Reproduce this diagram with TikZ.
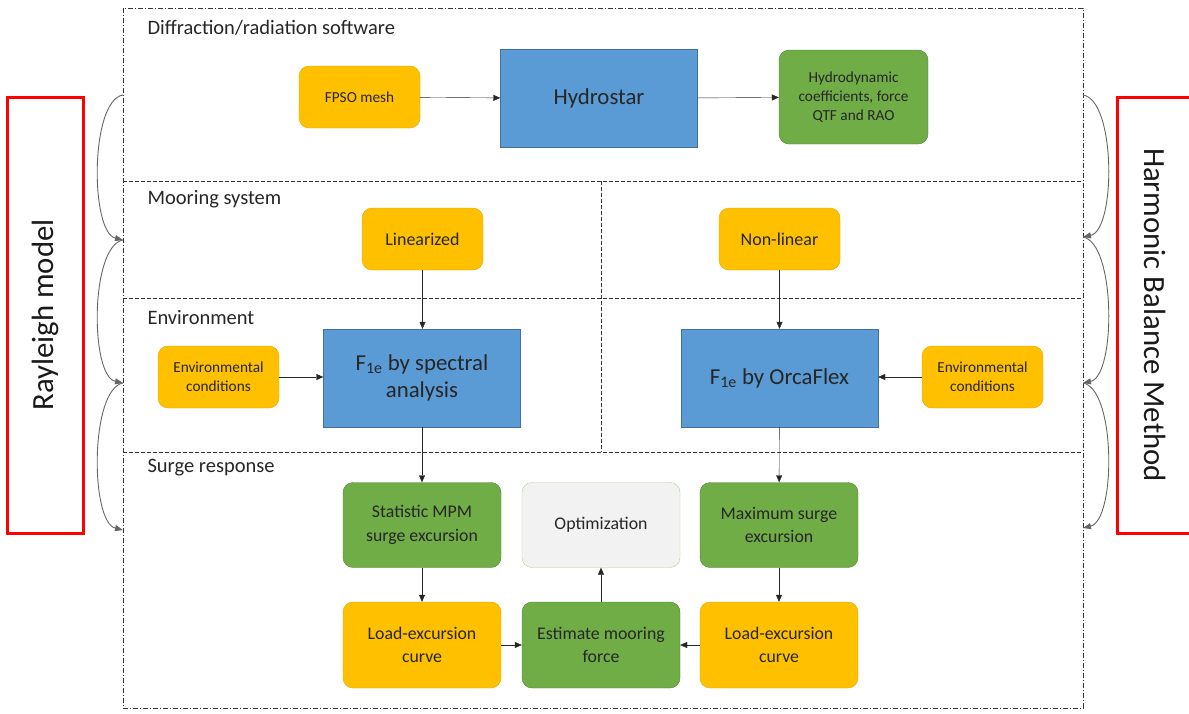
\documentclass[tikz,border=0pt]{standalone}
\usepackage{fontspec}
\setmainfont{Carlito}
\usetikzlibrary{arrows.meta}
\definecolor{jaune}{HTML}{FFC000}
\definecolor{jauneb}{HTML}{E0A800}
\definecolor{vert}{HTML}{70AD47}
\definecolor{vertb}{HTML}{507E32}
\definecolor{bleu}{HTML}{5B9BD5}
\definecolor{bleub}{HTML}{41719C}
\definecolor{gris}{HTML}{F2F2F2}
\definecolor{grisb}{HTML}{A9D18E}
\tikzset{
  bloc/.style={draw,align=center,inner sep=0pt,text=black!85},
  bj/.style={bloc,rounded corners=10pt,fill=jaune,draw=jauneb,minimum width=121pt,minimum height=62pt,font=\fontsize{15.3}{19}\selectfont},
  bv/.style={bloc,rounded corners=10pt,fill=vert,draw=vertb,minimum width=158pt,minimum height=85pt,font=\fontsize{17.8}{23.5}\selectfont},
  bb/.style={bloc,fill=bleu,draw=bleub,minimum width=197pt,minimum height=98pt,font=\fontsize{22.8}{27}\selectfont},
  fl/.style={-{Triangle[length=7pt,width=6pt]},black!85},
  courbe/.style={-{Triangle[length=8pt,width=6pt]},black!60,line width=0.9pt},
  titre/.style={anchor=west,font=\fontsize{20.5}{24}\selectfont,text=black!85}
}
\begin{document}
\begin{tikzpicture}[x=1pt,y=-1pt]
	  \useasboundingbox (0,0) rectangle (1189,713);
	  %cadres
	  \draw[black!80,dash pattern=on 5pt off 2pt on 1pt off 2pt] (123,8) rectangle (1083,708);
	  \draw[black!80,dash pattern=on 4pt off 2pt] (123,181) -- (1083,181)
		(123,298) -- (1083,298) (123,452) -- (1083,452) (601,181) -- (601,452);
	  \node[titre] at (144,28) {Diffraction/radiation software};
	  \node[titre] at (144,199) {Mooring system};
	  \node[titre] at (144,318) {Environment};
	  \node[titre] at (144,468) {Surge response};
	  %blocs
	  \node[bj] (M) at (359.5,97) {FPSO mesh};
	  \node[bb] (H) at (599,98.5) {Hydrostar};
	  \node[bv,minimum width=149pt,minimum height=94pt,font=\fontsize{15.3}{19}\selectfont] (C) at (853.5,97) {Hydrodynamic\\coefficients, force\\QTF and RAO};
	  \node[bj,font=\fontsize{18}{22}\selectfont] (L) at (422.5,239) {Linearized};
	  \node[bj,font=\fontsize{18}{22}\selectfont] (N) at (779.5,239) {Non-linear};
	  \node[bj] (E1) at (218.5,377) {Environmental\\conditions};
	  \node[bb] (S) at (422,378) {F\textsubscript{1e} by spectral\\analysis};
	  \node[bb] (O) at (779.5,378) {F\textsubscript{1e} by OrcaFlex};
	  \node[bj] (E2) at (982.5,377) {Environmental\\conditions};
	  \node[bv] (P) at (422,525) {Statistic MPM\\surge excursion};
	  \node[bv,fill=gris,draw=grisb] (Z) at (601,525) {Optimization};
	  \node[bv] (X) at (779,525) {Maximum surge\\excursion};
	  \node[bj,minimum width=158pt,minimum height=86pt,font=\fontsize{17.8}{23.5}\selectfont] (K1) at (422,645) {Load-excursion\\curve};
	  \node[bv,minimum height=86pt] (F) at (601,645) {Estimate mooring\\force};
	  \node[bj,minimum width=158pt,minimum height=86pt,font=\fontsize{17.8}{23.5}\selectfont] (K2) at (779,645) {Load-excursion\\curve};
	  %fleches
	  \draw[fl] (M) -- (H);
	  \draw[fl] (H) -- (C);
	  \draw[fl] (L) -- (L|-S.north);
	  \draw[fl] (N) -- (N|-O.north);
	  \draw[fl] (E1) -- (E1-|S.west);
	  \draw[fl] (E2) -- (E2-|O.east);
	  \draw[fl] (S) -- (P);
	  \draw[fl] (O) -- (X);
	  \draw[fl] (P) -- (K1);
	  \draw[fl] (X) -- (K2);
	  \draw[fl] (K1) -- (F);
	  \draw[fl] (K2) -- (F);
	  \draw[fl] (F) -- (Z);
	  %courbes laterales
	  \coordinate (g0) at (123,95);  \coordinate (g1) at (123,240);
	  \coordinate (g2) at (123,383); \coordinate (g3) at (123,530);
	  \coordinate (d0) at (1083,95);  \coordinate (d1) at (1083,237);
	  \coordinate (d2) at (1083,383); \coordinate (d3) at (1083,528);
	  \draw[courbe] (g0) .. controls (90,100) and (90,232) .. (g1);
	  \draw[courbe] (g1) .. controls (90,246) and (90,376) .. (g2);
	  \draw[courbe] (g2) .. controls (90,389) and (90,522) .. (g3);
	  \draw[courbe] (d0) .. controls (1116,100) and (1116,230) .. (d1);
	  \draw[courbe] (d1) .. controls (1116,243) and (1116,376) .. (d2);
	  \draw[courbe] (d2) .. controls (1116,389) and (1116,520) .. (d3);
	  %methodes
	  \draw[red,line width=3pt] (7,97) rectangle (83,533);
	  \draw[red,line width=3pt] (1117,97) rectangle (1196,533);
	  \node[rotate=90,font=\fontsize{30.8}{36}\selectfont,text=black!90] (R) at (45,315) {Rayleigh model};
	  \node[rotate=-90,font=\fontsize{30.8}{36}\selectfont,text=black!90] (B) at (1155,315) {Harmonic Balance Method};
\end{tikzpicture}
\end{document}
